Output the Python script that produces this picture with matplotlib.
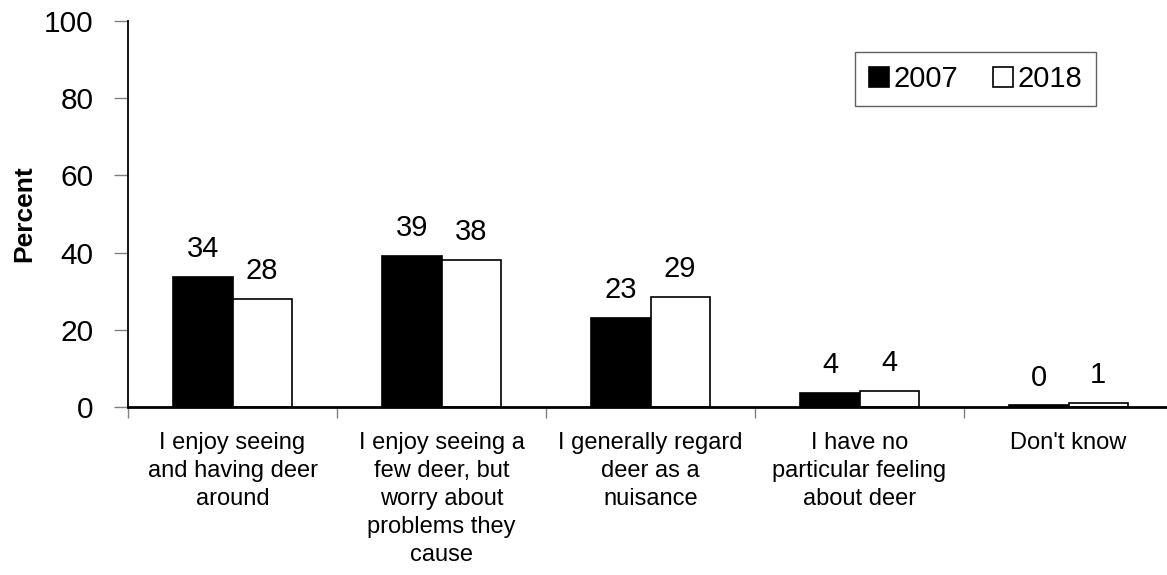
import matplotlib.pyplot as plt
import numpy as np

plt.rcParams.update({
    'font.family': ['Liberation Sans', 'DejaVu Sans'],
    'font.size': 21,
})

categories = [
    'I enjoy seeing\nand having deer\naround',
    'I enjoy seeing a\nfew deer, but\nworry about\nproblems they\ncause',
    'I generally regard\ndeer as a\nnuisance',
    'I have no\nparticular feeling\nabout deer',
    "Don't know",
]
values_2007 = [33.8, 39.2, 23.0, 3.7, 0.4]
values_2018 = [28.0, 38.2, 28.5, 4.1, 1.0]
labels_2007 = ['34', '39', '23', '4', '0']
labels_2018 = ['28', '38', '29', '4', '1']

fig = plt.figure(figsize=(11.67, 5.75), dpi=100)
ax = fig.add_axes([0.1097, 0.2922, 0.8955, 0.6713])

x = np.arange(len(categories))
w = 0.283

b1 = ax.bar(x - w / 2, values_2007, w, color='black', edgecolor='black',
            linewidth=1.2, label='2007')
b2 = ax.bar(x + w / 2, values_2018, w, color='white', edgecolor='black',
            linewidth=1.2, label='2018')

for bars, labs in [(b1, labels_2007), (b2, labels_2018)]:
    for rect, lab in zip(bars, labs):
        ax.annotate(lab, (rect.get_x() + rect.get_width() / 2, rect.get_height()),
                    xytext=(0, 10), textcoords='offset points',
                    ha='center', va='bottom', fontsize=21)

ax.set_xlim(-0.5, 4.5)
ax.set_ylim(0, 100)
ax.set_yticks([0, 20, 40, 60, 80, 100])
ax.set_xticks(x)
ax.set_xticklabels(categories, fontsize=17, va='top', linespacing=1.35)
ax.tick_params(axis='x', which='major', length=0, pad=18)
ax.set_xticks(np.arange(-0.5, 4.6, 1), minor=True)
ax.tick_params(axis='x', which='minor', length=8, color='#808080', width=1)
ax.tick_params(axis='y', length=10, color='#808080', width=1, pad=15,
               labelsize=21.5)

ax.set_ylabel('Percent', fontsize=19, fontweight='bold', labelpad=5)

ax.spines['top'].set_visible(False)
ax.spines['right'].set_visible(False)
ax.spines['left'].set_linewidth(1.3)
ax.spines['bottom'].set_linewidth(2)

leg = ax.legend(loc='upper right', bbox_to_anchor=(0.926, 0.92), ncol=2,
                fancybox=False, edgecolor='#606060', framealpha=1,
                handlelength=0.7, handleheight=0.7, handletextpad=0.15,
                columnspacing=1.2, fontsize=21, borderpad=0.45,
                borderaxespad=0)
leg.get_frame().set_linewidth(1.0)

fig.savefig('out.png', dpi=100, facecolor='white')
